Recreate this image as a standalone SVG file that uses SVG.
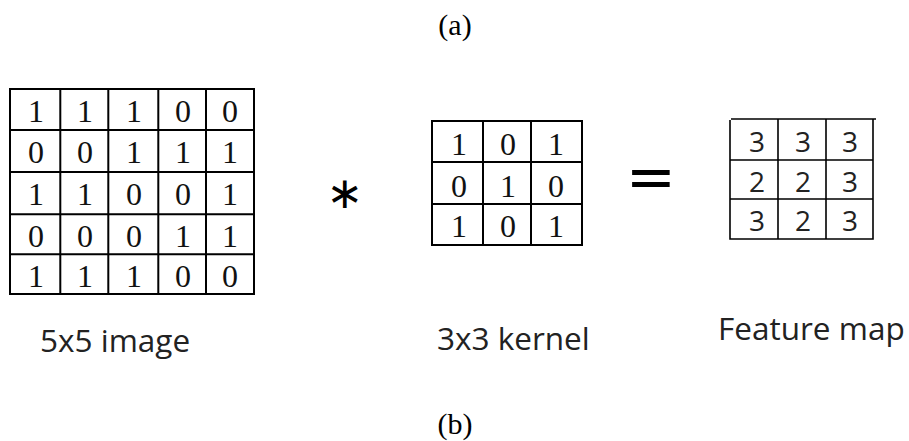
<svg xmlns="http://www.w3.org/2000/svg" width="909" height="441" viewBox="0 0 909 441">
<style>
.grid{fill:none;stroke:#000;stroke-width:2}
.fgrid{fill:none;stroke:#000;stroke-width:1.6}
.sd{font-family:"Liberation Serif","Times New Roman",serif;font-size:32px;fill:#111;text-anchor:middle}
.fd{font-family:"Open Sans","Noto Sans",sans-serif;font-size:28px;fill:#222;text-anchor:middle}
.lbl{font-family:"Open Sans","Noto Sans",sans-serif;font-size:31.5px;fill:#222}
.cap{font-family:"Liberation Serif","Times New Roman",serif;font-size:30px;fill:#000;text-anchor:middle}
.op{font-family:"DejaVu Sans",sans-serif;fill:#000;text-anchor:middle}
</style>
<rect width="909" height="441" fill="#fff"/>
<g id="caption-a"><text class="cap" x="455" y="35">(a)</text></g>
<g id="image5x5">
<rect class="grid" x="10" y="89" width="244" height="205"/>
<path class="grid" d="M60.3 89V294M108.3 89V294M158.3 89V294M206 89V294M10 130H254M10 172H254M10 214.3H254M10 254.3H254"/>
<text class="sd" y="122"><tspan x="36">1</tspan><tspan x="85">1</tspan><tspan x="134">1</tspan><tspan x="183">0</tspan><tspan x="230">0</tspan></text>
<text class="sd" y="163"><tspan x="36">0</tspan><tspan x="85">0</tspan><tspan x="134">1</tspan><tspan x="183">1</tspan><tspan x="230">1</tspan></text>
<text class="sd" y="205"><tspan x="36">1</tspan><tspan x="85">1</tspan><tspan x="134">0</tspan><tspan x="183">0</tspan><tspan x="230">1</tspan></text>
<text class="sd" y="247"><tspan x="36">0</tspan><tspan x="85">0</tspan><tspan x="134">0</tspan><tspan x="183">1</tspan><tspan x="230">1</tspan></text>
<text class="sd" y="287"><tspan x="36">1</tspan><tspan x="85">1</tspan><tspan x="134">1</tspan><tspan x="183">0</tspan><tspan x="230">0</tspan></text>
</g>
<g id="kernel3x3">
<rect class="grid" x="432" y="121" width="150" height="124"/>
<path class="grid" d="M483 121V245M531 121V245M432 162H582M432 204H582"/>
<text class="sd" y="155"><tspan x="459">1</tspan><tspan x="508">0</tspan><tspan x="556">1</tspan></text>
<text class="sd" y="197"><tspan x="459">0</tspan><tspan x="508">1</tspan><tspan x="556">0</tspan></text>
<text class="sd" y="237"><tspan x="459">1</tspan><tspan x="508">0</tspan><tspan x="556">1</tspan></text>
</g>
<g id="featuremap">
<path class="fgrid" d="M731 119H876M730 120V239H873V119M778 119V239M826 119V239M730 160H873M730 199H873"/>
<text class="fd" y="152"><tspan x="757">3</tspan><tspan x="803">3</tspan><tspan x="850">3</tspan></text>
<text class="fd" y="192"><tspan x="757">2</tspan><tspan x="803">2</tspan><tspan x="850">3</tspan></text>
<text class="fd" y="231"><tspan x="757">3</tspan><tspan x="803">2</tspan><tspan x="850">3</tspan></text>
</g>
<g id="operators">
<text class="op" x="345" y="208" font-size="44">∗</text>
<text class="op" x="651" y="197" font-size="60">=</text>
</g>
<g id="labels">
<text class="lbl" x="40" y="352">5x5 image</text>
<text class="lbl" x="437" y="350">3x3 kernel</text>
<text class="lbl" x="718" y="340">Feature map</text>
</g>
<g id="caption-b"><text class="cap" x="455" y="434">(b)</text></g>
<g id="connectors"/>
</svg>
